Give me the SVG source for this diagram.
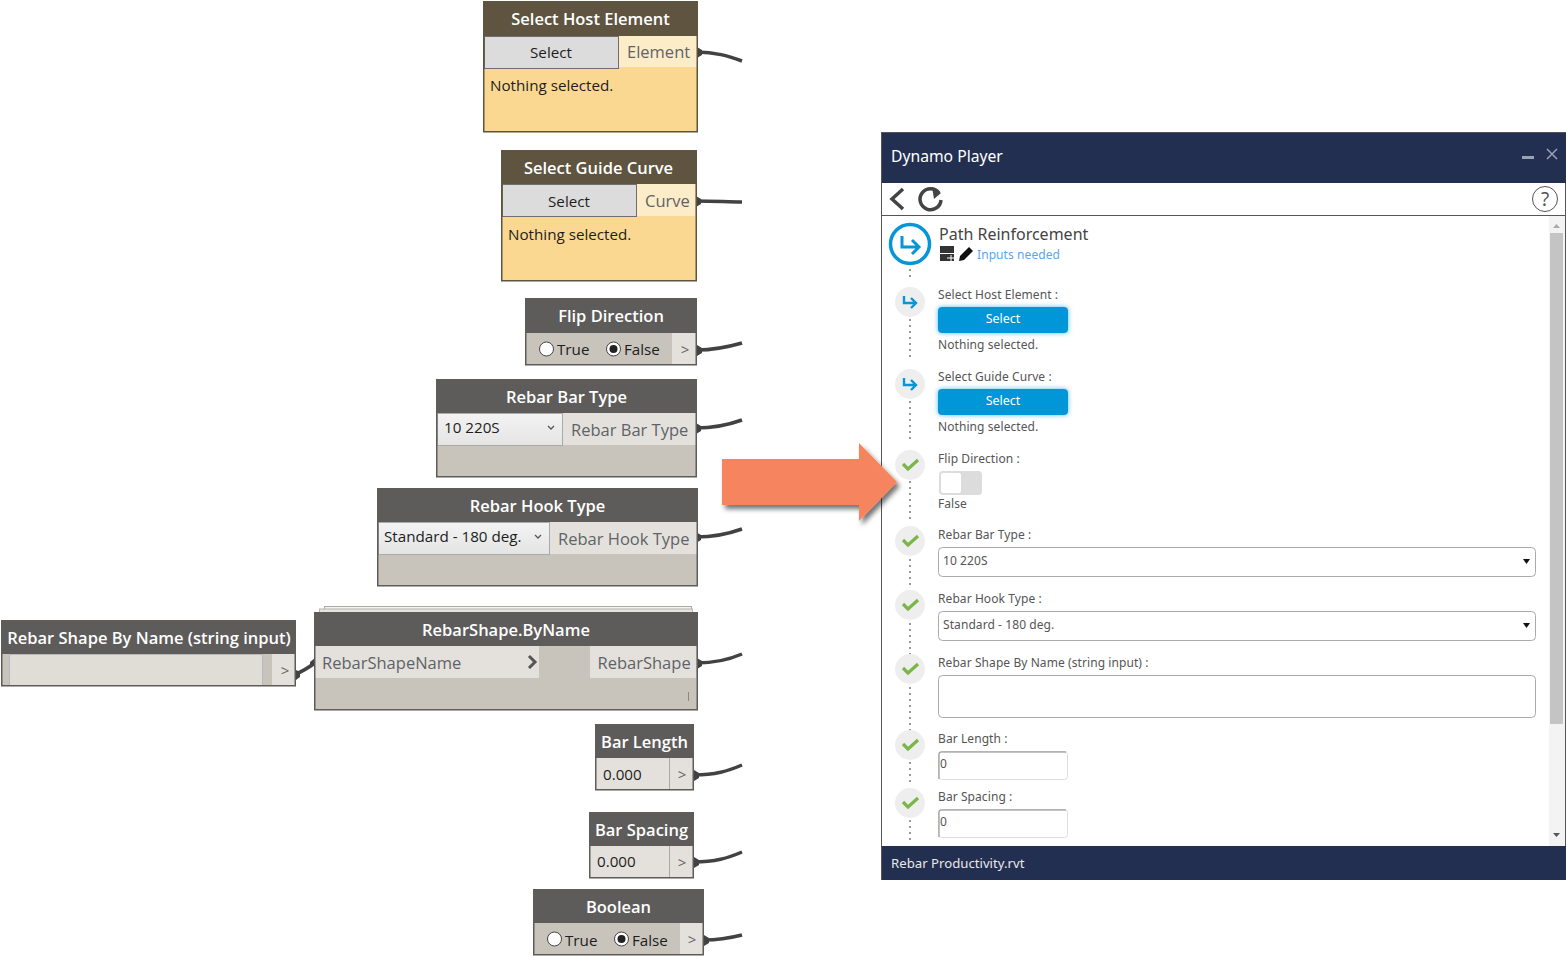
<svg xmlns="http://www.w3.org/2000/svg" width="1566" height="956" viewBox="0 0 1566 956">
<defs>
<style>
text{font-family:"Open Sans","Noto Sans",sans-serif}
.t{font-size:16.5px;font-weight:600;fill:#fff;text-anchor:middle}
.l{font-size:15.200px;fill:#1d1d1d}
.p{font-size:16.500px;fill:#5f6368}
.c{font-size:15.200px;fill:#1d1d1d;text-anchor:middle}
.gt{font-size:15px;fill:#666;text-anchor:middle}
.hb{fill:#5e5440}
.hg{fill:#5e5c5a}
.bo{fill:none;stroke:#5e5c5a;stroke-width:1.5}
.by{fill:#fbd892}
.bg{fill:#c8c4bc}
.lt{fill:#e4e1dc}
.wire{fill:none;stroke:#424242;stroke-width:3.5}
.pin{fill:#424242}
.u{font-family:"Noto Sans","Open Sans",sans-serif;font-size:12px;fill:#555;letter-spacing:.08px}
.dot{fill:none;stroke:#999;stroke-width:2;stroke-dasharray:2 4}
.circ{fill:#eee}
.chk{fill:none;stroke:#7ab648;stroke-width:3.2}
.arr{fill:none;stroke:#0696d7;stroke-width:2.4}
.btn{fill:#0696d7;filter:url(#glow)}
.btxt{font-family:"Noto Sans",sans-serif;font-size:12.5px;fill:#fff;text-anchor:middle}
.fld{fill:#fff;stroke:#aaa;stroke-width:1}
</style>
<filter id="glow" x="-10%" y="-40%" width="120%" height="180%"><feGaussianBlur stdDeviation="2.500" in="SourceAlpha" result="b"/><feFlood flood-color="#4fbdf0"/><feComposite in2="b" operator="in"/><feMerge><feMergeNode/><feMergeNode in="SourceGraphic"/></feMerge></filter>
<filter id="sh" x="-10%" y="-10%" width="125%" height="125%"><feDropShadow dx="3" dy="4" stdDeviation="2.500" flood-color="#000" flood-opacity=".55"/></filter>
<linearGradient id="cb" x1="0" y1="0" x2="0" y2="1"><stop offset="0" stop-color="#f3f3f3"/><stop offset="1" stop-color="#e4e4e4"/></linearGradient>
</defs>
<rect width="1566" height="956" fill="#fff"/>

<g id="connectors">
<path class="wire" d="M697 52C715 52 728 56 742 61"/>
<path class="wire" d="M696 201C715 201 728 202 742 202"/>
<path class="wire" d="M697 350C715 350 728 347 742 343"/>
<path class="wire" d="M696 428C715 428 728 425 742 420"/>
<path class="wire" d="M696 537C715 537 728 534 742 529"/>
<path class="wire" d="M296 674C303 671 308 668 315 663" stroke-width="4"/>
<path class="wire" d="M697 663C715 663 728 660 742 654"/>
<path class="wire" d="M694 775C715 775 728 771 742 765"/>
<path class="wire" d="M694 862C715 862 728 858 742 852"/>
<path class="wire" d="M704 940C718 940 730 938 742 935"/>
<path class="pin" d="M697 47l5 3v5l-5 3zM696 196l5 3v5l-5 3zM697 345l5 3v5l-5 3zM696 423l5 3v5l-5 3zM696 532l5 3v5l-5 3zM697 658l5 3v5l-5 3zM694 770l5 3v5l-5 3zM694 857l5 3v5l-5 3zM704 935l5 3v5l-5 3zM296 670l4 2v5l-4 3zM315 658l-5 4v5l5-2z"/>
</g>

<g id="node-select-host">
<rect class="hb" x="483" y="1" width="215" height="35"/>
<rect class="by" x="484" y="36" width="213" height="96"/>
<rect x="484.500" y="36.500" width="134" height="32" fill="#dcdcdc" stroke="#6e6e6e"/>
<rect x="619" y="36" width="78" height="31" fill="#fdecc8"/>
<rect x="483.750" y="1.750" width="213.500" height="130" fill="none" stroke="#5e5440" stroke-width="1.500"/>
<text class="t" x="590.500" y="25">Select Host Element</text>
<text class="c" x="551" y="58">Select</text>
<text class="p" x="627" y="58">Element</text>
<text class="l" x="490" y="91">Nothing selected.</text>
</g>

<g id="node-select-guide">
<rect class="hb" x="501" y="150" width="196" height="34"/>
<rect class="by" x="502" y="184" width="194" height="97"/>
<rect x="502.500" y="184.500" width="134" height="32" fill="#dcdcdc" stroke="#6e6e6e"/>
<rect x="637" y="184" width="58" height="32" fill="#fdecc8"/>
<rect x="501.750" y="150.750" width="194.500" height="130" fill="none" stroke="#5e5440" stroke-width="1.500"/>
<text class="t" x="598.500" y="174">Select Guide Curve</text>
<text class="c" x="569" y="207">Select</text>
<text class="p" x="645" y="207">Curve</text>
<text class="l" x="508" y="240">Nothing selected.</text>
</g>

<g id="node-flip">
<rect class="hg" x="525" y="298" width="172" height="35"/>
<rect class="bg" x="526" y="333" width="170" height="32"/>
<rect class="lt" x="672" y="333" width="24" height="31"/>
<rect class="bo" x="525.750" y="298.750" width="170.500" height="66"/>
<text class="t" x="611" y="322">Flip Direction</text>
<circle cx="546.500" cy="349" r="7" fill="#fff" stroke="#444"/>
<text class="l" x="557" y="355">True</text>
<circle cx="613.500" cy="349" r="7" fill="#fff" stroke="#444"/><circle cx="613.500" cy="349" r="4" fill="#222"/>
<text class="l" x="624" y="355">False</text>
<text class="gt" x="685" y="355">&gt;</text>
</g>

<g id="node-bar-type">
<rect class="hg" x="436" y="379" width="261" height="34"/>
<rect class="bg" x="437" y="413" width="259" height="64"/>
<rect class="lt" x="563" y="413" width="133" height="32"/>
<rect x="437.500" y="413.500" width="125" height="32" fill="url(#cb)" stroke="#aaa"/>
<rect class="bo" x="436.750" y="379.750" width="259.500" height="97"/>
<text class="t" x="566.500" y="403">Rebar Bar Type</text>
<text class="l" x="444" y="433">10 220S</text>
<path d="M548 426l3 3 3-3" fill="none" stroke="#555" stroke-width="1.300"/>
<text class="p" x="571" y="436">Rebar Bar Type</text>
</g>

<g id="node-hook-type">
<rect class="hg" x="377" y="488" width="321" height="34"/>
<rect class="bg" x="378" y="522" width="319" height="64"/>
<rect class="lt" x="550" y="522" width="147" height="32"/>
<rect x="378.500" y="522.500" width="171" height="32" fill="url(#cb)" stroke="#aaa"/>
<rect class="bo" x="377.750" y="488.750" width="319.500" height="97"/>
<text class="t" x="537.500" y="512">Rebar Hook Type</text>
<text class="l" x="384" y="542">Standard - 180 deg.</text>
<path d="M535 535l3 3 3-3" fill="none" stroke="#555" stroke-width="1.300"/>
<text class="p" x="558" y="545">Rebar Hook Type</text>
</g>

<g id="node-shape-string">
<rect class="hg" x="1" y="620" width="295" height="34"/>
<rect class="bg" x="2" y="654" width="293" height="32"/>
<rect x="9.500" y="654.500" width="253" height="31" fill="#e0ddd7" stroke="#b5b8c0"/>
<rect class="lt" x="272" y="654" width="23" height="32"/>
<rect class="bo" x="1.750" y="620.750" width="293.500" height="65"/>
<text class="t" x="149" y="644">Rebar Shape By Name (string input)</text>
<text class="gt" x="285" y="676">&gt;</text>
</g>

<g id="node-shape-byname">
<rect x="324.500" y="606.500" width="367" height="6" fill="#f2f2f0" stroke="#a8a8a4"/>
<rect x="319.500" y="609" width="373" height="5" fill="#e6e4df" stroke="#b4b4b0"/>
<rect class="hg" x="314" y="612" width="384" height="34"/>
<rect class="bg" x="315" y="646" width="382" height="64"/>
<rect class="lt" x="315" y="646" width="224" height="32"/>
<rect class="lt" x="590" y="646" width="106" height="32"/>
<rect class="bo" x="314.750" y="612.750" width="382.500" height="97"/>
<text class="t" x="506" y="636">RebarShape.ByName</text>
<text class="p" x="322" y="669">RebarShapeName</text>
<path d="M529 656l6 6-6 6" fill="none" stroke="#555" stroke-width="3"/>
<text class="p" x="597.500" y="669">RebarShape</text>
<path d="M688.500 692v9" stroke="#888" stroke-width="1"/>
</g>

<g id="node-bar-length">
<rect class="hg" x="595" y="724" width="99" height="34"/>
<rect class="lt" x="596" y="758" width="97" height="32"/>
<path d="M669.500 758v32" stroke="#aaa"/>
<rect class="bo" x="595.750" y="724.750" width="97.500" height="65"/>
<text class="t" x="644.500" y="748">Bar Length</text>
<text class="l" x="603" y="780">0.000</text>
<text class="gt" x="682" y="780">&gt;</text>
</g>

<g id="node-bar-spacing">
<rect class="hg" x="589" y="812" width="105" height="34"/>
<rect class="lt" x="590" y="846" width="103" height="32"/>
<path d="M669.500 846v32" stroke="#aaa"/>
<rect class="bo" x="589.750" y="812.750" width="103.500" height="65"/>
<text class="t" x="641.500" y="836">Bar Spacing</text>
<text class="l" x="597" y="867">0.000</text>
<text class="gt" x="682" y="868">&gt;</text>
</g>

<g id="node-boolean">
<rect class="hg" x="533" y="889" width="171" height="34"/>
<rect class="bg" x="534" y="923" width="169" height="32"/>
<rect class="lt" x="680" y="923" width="23" height="32"/>
<rect class="bo" x="533.750" y="889.750" width="169.500" height="65"/>
<text class="t" x="618.500" y="913">Boolean</text>
<circle cx="554.500" cy="939" r="7" fill="#fff" stroke="#444"/>
<text class="l" x="565" y="946">True</text>
<circle cx="621.500" cy="939" r="7" fill="#fff" stroke="#444"/><circle cx="621.500" cy="939" r="4" fill="#222"/>
<text class="l" x="632" y="946">False</text>
<text class="gt" x="692" y="945">&gt;</text>
</g>

<g id="dynamo-player">
<rect x="881.500" y="132.500" width="684" height="747" fill="#fff" stroke="#555"/>
<rect x="882" y="133" width="684" height="50" fill="#232f50"/>
<text x="891" y="162" font-size="15.700" fill="#fff" style="font-family:'Noto Sans',sans-serif">Dynamo Player</text>
<rect x="1522" y="156" width="12" height="3" fill="#9aa0b5"/>
<path d="M1547 149l10 10M1557 149l-10 10" stroke="#9aa0b5" stroke-width="1.500" fill="none"/>
<path d="M882 215.500h684" stroke="#555"/>
<path d="M903 189l-11 10 11 10" fill="none" stroke="#444" stroke-width="3.500"/>
<path d="M939 193a10.500 10.500 0 1 0 2 7" fill="none" stroke="#444" stroke-width="3.500"/>
<path d="M932 187l9 6-7 6z" fill="#444"/>
<circle cx="1545" cy="199" r="12.500" fill="#fff" stroke="#555"/>
<text x="1545" y="206" text-anchor="middle" font-size="19" fill="#555" style="font-family:'Noto Sans',sans-serif">?</text>

<rect x="1549" y="216" width="16" height="630" fill="#f3f3f3"/>
<rect x="1550" y="233" width="13" height="491" fill="#c4c4c4"/>
<path d="M1553 228l3.500-4 3.500 4z" fill="#aaa"/><path d="M1553 833l3.500 4 3.500-4z" fill="#555"/>

<circle cx="910" cy="244" r="19.500" fill="#fff" stroke="#0696d7" stroke-width="3.500"/>
<path d="M902 236v11h16M912 240l7 7-7 7" fill="none" stroke="#0696d7" stroke-width="3"/>
<text x="939" y="240" font-size="16" fill="#444" style="font-family:'Noto Sans',sans-serif">Path Reinforcement</text>
<rect x="940" y="246" width="14" height="7" fill="#333"/><path d="M940 254h14v7h-14z" fill="#333"/><path d="M947 258h7M951 255v6" stroke="#fff"/>
<path d="M959 261l1-5 9-9 4 4-9 9z" fill="#111"/>
<text x="977" y="259" class="u" style="fill:#5ba6e6">Inputs needed</text>

<path class="dot" d="M910 269v12M910 319v42M910 401v42M910 481v42M910 559v28M910 623v33M910 687v44M910 762v24M910 820v24"/>

<circle class="circ" cx="910" cy="302" r="15"/><path class="arr" d="M904 296v7h12M911 298l5 5-5 5"/>
<circle class="circ" cx="910" cy="384" r="15"/><path class="arr" d="M904 378v7h12M911 380l5 5-5 5"/>
<circle class="circ" cx="910" cy="465" r="15"/><path class="chk" d="M903 464l5 5 10-9"/>
<circle class="circ" cx="910" cy="541" r="15"/><path class="chk" d="M903 540l5 5 10-9"/>
<circle class="circ" cx="910" cy="605" r="15"/><path class="chk" d="M903 604l5 5 10-9"/>
<circle class="circ" cx="910" cy="669" r="15"/><path class="chk" d="M903 668l5 5 10-9"/>
<circle class="circ" cx="910" cy="745" r="15"/><path class="chk" d="M903 744l5 5 10-9"/>
<circle class="circ" cx="910" cy="803" r="15"/><path class="chk" d="M903 802l5 5 10-9"/>

<text class="u" x="938" y="299">Select Host Element :</text>
<rect class="btn" x="938" y="307" width="130" height="26" rx="4"/>
<text class="btxt" x="1003" y="323">Select</text>
<text class="u" x="938" y="349">Nothing selected.</text>

<text class="u" x="938" y="381">Select Guide Curve :</text>
<rect class="btn" x="938" y="389" width="130" height="26" rx="4"/>
<text class="btxt" x="1003" y="405">Select</text>
<text class="u" x="938" y="431">Nothing selected.</text>

<text class="u" x="938" y="463">Flip Direction :</text>
<rect x="939" y="471" width="43" height="24" rx="4" fill="#dcdcdc"/>
<rect x="941" y="473" width="20" height="20" rx="2" fill="#fff"/>
<text class="u" x="938" y="508">False</text>

<text class="u" x="938" y="539">Rebar Bar Type :</text>
<rect class="fld" x="938.500" y="547.500" width="597" height="29" rx="4"/>
<text class="u" x="943" y="565">10 220S</text>
<path d="M1523 559h7l-3.500 5z" fill="#111"/>

<text class="u" x="938" y="603">Rebar Hook Type :</text>
<rect class="fld" x="938.500" y="611.500" width="597" height="29" rx="4"/>
<text class="u" x="943" y="629">Standard - 180 deg.</text>
<path d="M1523 623h7l-3.500 5z" fill="#111"/>

<text class="u" x="938" y="667">Rebar Shape By Name (string input) :</text>
<rect class="fld" x="938.500" y="675.500" width="597" height="42" rx="4"/>

<text class="u" x="938" y="743">Bar Length :</text>
<rect x="938.500" y="751.500" width="129" height="28" rx="3" fill="#fff" stroke="#ddd"/>
<path d="M939 779v-25q0-2 2-2h125" fill="none" stroke="#888"/>
<text class="u" x="940" y="768">0</text>

<text class="u" x="938" y="801">Bar Spacing :</text>
<rect x="938.500" y="809.500" width="129" height="28" rx="3" fill="#fff" stroke="#ddd"/>
<path d="M939 837v-25q0-2 2-2h125" fill="none" stroke="#888"/>
<text class="u" x="940" y="826">0</text>

<rect x="882" y="846" width="684" height="34" fill="#232f50"/>
<text x="891" y="868" font-size="13.200" fill="#e8e8e8" style="font-family:'Noto Sans',sans-serif">Rebar Productivity.rvt</text>
</g>

<g id="callout-arrow">
<path d="M722 459h137v-16l38 39-38 39v-16h-137z" fill="#f6855f" filter="url(#sh)"/>
</g>
</svg>
